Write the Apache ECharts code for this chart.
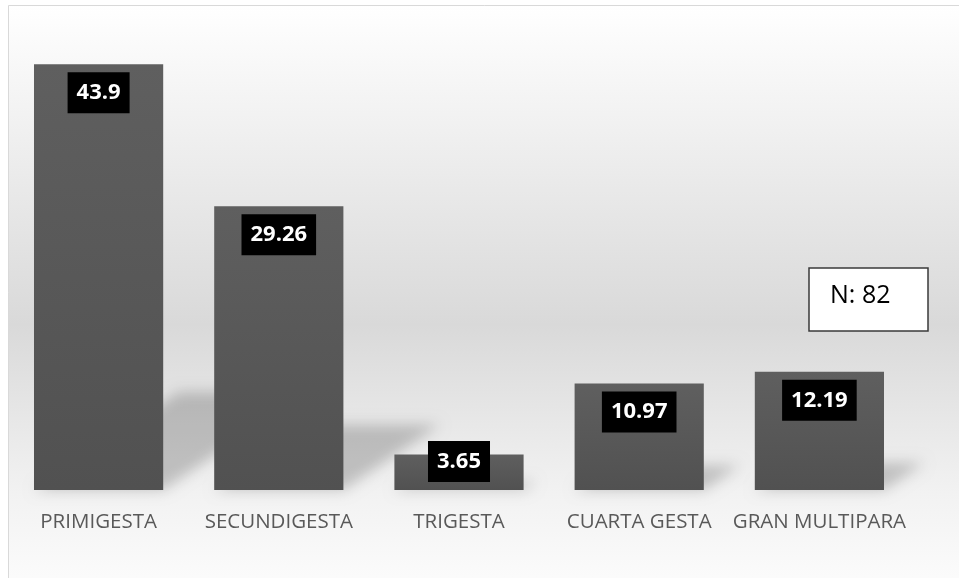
<!DOCTYPE html>
<html>
<head>
<meta charset="utf-8">
<script src="https://cdn.jsdelivr.net/npm/echarts@6/dist/echarts.min.js"></script>
<style>
  html, body { margin: 0; padding: 0; background: #fff; }
  #chart { width: 959px; height: 578px; }
</style>
</head>
<body>
<div id="chart"></div>
<script>
const categories = ['PRIMIGESTA', 'SECUNDIGESTA', 'TRIGESTA', 'CUARTA GESTA', 'GRAN MULTIPARA']
const values = [43.9, 29.26, 3.65, 10.97, 12.19]
const sampleNote = 'N: 82'

const chart = echarts.init(document.getElementById('chart'))

const barColor = new echarts.graphic.LinearGradient(0, 0, 0, 1, [
  { offset: 0, color: '#5f5f5f' },
  { offset: 1, color: '#515151' }
])

// perspective shadow behind each bar; the shape is drawn off screen and only its blurred shadow lands in place
function renderShadow(params, api) {
  const i = api.value(0)
  const v = api.value(1)
  const base = api.coord([i, 0])
  const top = api.coord([i, v])
  const w = api.size([1, 0])[0] * 0.717
  const h = base[1] - top[1]
  const dx = h * 0.34, dy = h * 0.23
  const off = 3000
  const x0 = base[0] - w / 2 - off, x1 = base[0] + w / 2 - off
  return {
    type: 'polygon',
    shape: { points: [[x0, base[1]], [x1, base[1]], [x1 + dx, base[1] - dy], [x0 + dx, base[1] - dy]] },
    style: {
      fill: '#000',
      shadowColor: 'rgba(0,0,0,0.2)',
      shadowBlur: 14,
      shadowOffsetX: off
    }
  }
}

chart.setOption({
  animation: false,
  graphic: [
    {
      type: 'rect', z: -10, silent: true,
      shape: { x: 8.5, y: 5.5, width: 960, height: 580 },
      style: {
        fill: new echarts.graphic.LinearGradient(0, 0, 0, 1, [
          { offset: 0, color: '#ffffff' },
          { offset: 0.55, color: '#d9d9d9' },
          { offset: 0.84, color: '#f2f2f2' },
          { offset: 1, color: '#fcfcfc' }
        ]),
        stroke: '#d9d9d9', lineWidth: 1
      }
    },
    {
      type: 'group', z: 100,
      children: [
        { type: 'rect', shape: { x: 809, y: 268, width: 119, height: 63 },
          style: { fill: '#fff', stroke: '#3a3a3a', lineWidth: 1.5 } },
        { type: 'text', x: 830, y: 296,
          style: { text: sampleNote, fill: '#000', font: '25px "Open Sans"', verticalAlign: 'middle' } }
      ]
    }
  ],
  grid: { left: 8.5, right: 49.5, top: 5, bottom: 88, containLabel: false },
  xAxis: {
    type: 'category',
    data: categories,
    axisLine: { show: false },
    axisTick: { show: false },
    axisLabel: { color: '#595959', fontFamily: 'Open Sans', fontSize: 20.5, lineHeight: 24, margin: 20, interval: 0 }
  },
  yAxis: { type: 'value', min: 0, max: 50, show: false, splitLine: { show: false } },
  series: [
    {
      type: 'custom',
      z: 1,
      silent: true,
      renderItem: renderShadow,
      data: values.map((v, i) => [i, v])
    },
    {
      type: 'bar',
      z: 3,
      barCategoryGap: '28.3%',
      itemStyle: { color: barColor },
      label: {
        show: true,
        position: 'insideTop',
        distance: 8,
        color: '#fff',
        backgroundColor: '#000',
        fontFamily: 'Open Sans',
        fontWeight: 'bold',
        fontSize: 22,
        lineHeight: 25,
        padding: [8, 9, 8, 9]
      },
      data: values.map((v, i) => i === 2
        ? { value: v, label: { position: 'insideBottom', distance: 8 } }
        : v)
    }
  ]
})
</script>
</body>
</html>
